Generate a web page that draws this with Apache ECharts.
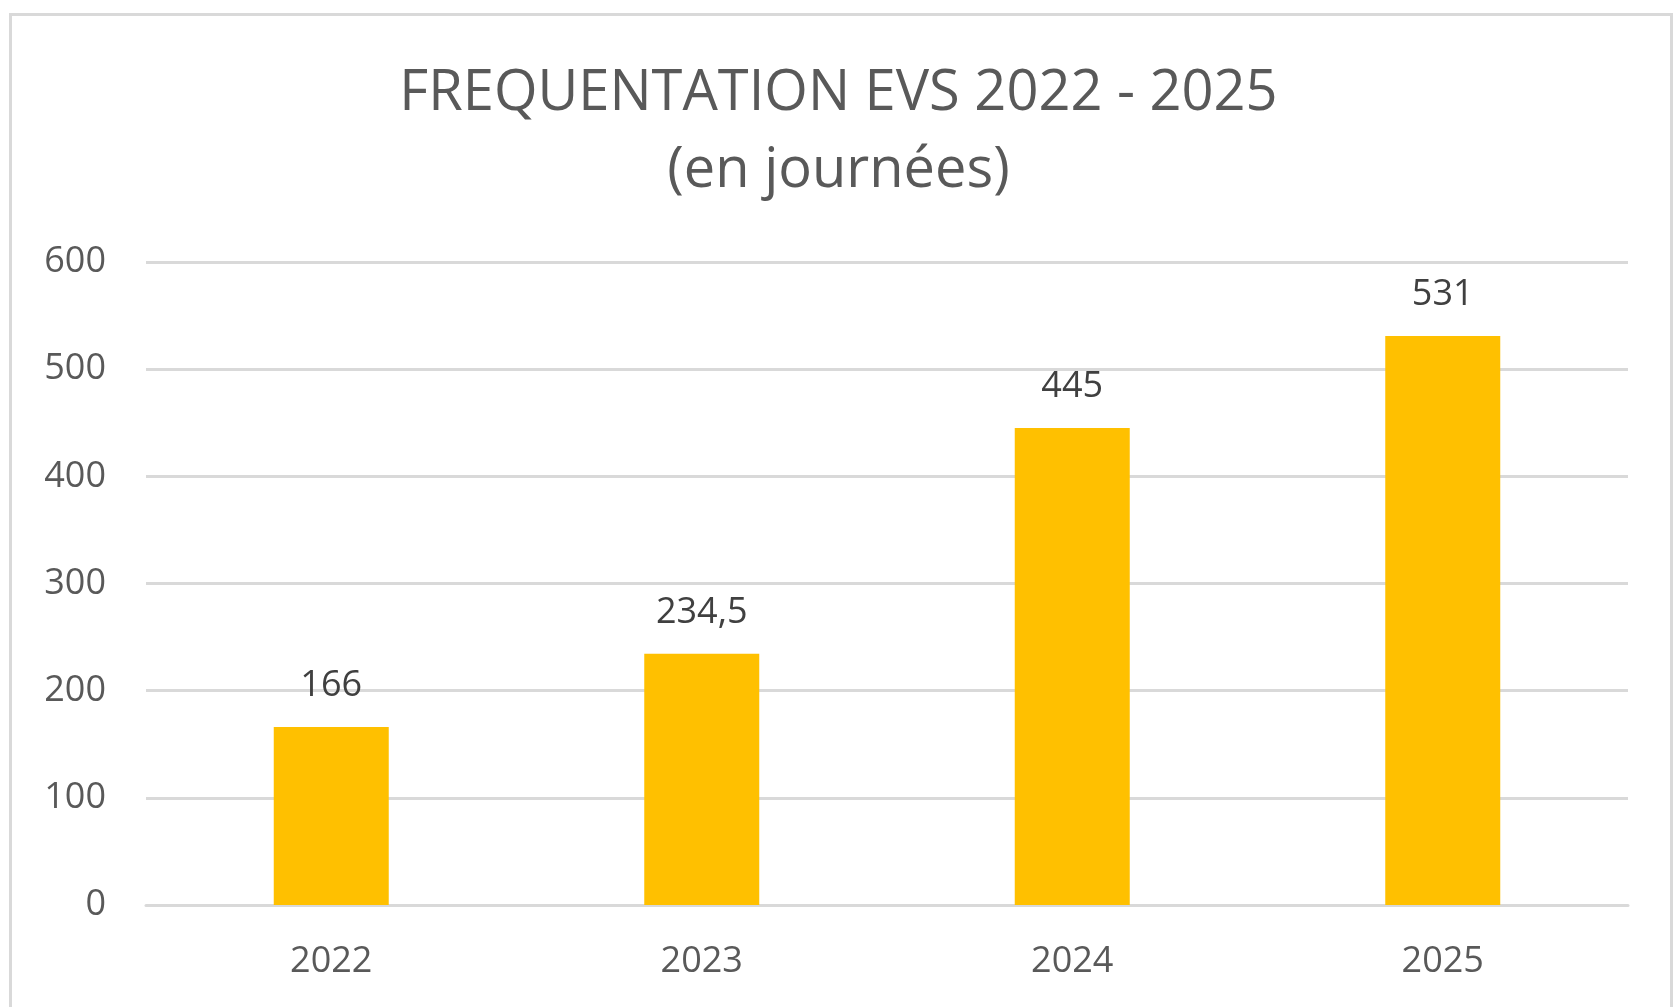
<!DOCTYPE html>
<html>
<head>
<meta charset="utf-8">
<script src="https://cdn.jsdelivr.net/npm/echarts@6/dist/echarts.min.js"></script>
<style>
	html, body { margin: 0; padding: 0; background: #fff; }
	#main { width: 1677px; height: 1007px; }
	/* cadre gris autour du graphique */
	#cadre {
		position: absolute; left: 9px; top: 13px; width: 1658px; height: 1010px;
		border: 3px solid #d9d9d9; pointer-events: none;
	}
</style>
</head>
<body>
<div id="main"></div>
<div id="cadre"></div>
<script>
// données
const annees = ['2022', '2023', '2024', '2025'];
const journees = [166, 234.5, 445, 531];
const titre = 'FREQUENTATION EVS 2022 - 2025\n(en journées)';

const chart = echarts.init(document.getElementById('main'));
const police = '"Open Sans", sans-serif';

chart.setOption({
	animation: false,
	title: {
		text: titre,
		left: 'center',
		top: 51,
		textStyle: {
			fontFamily: police,
			fontSize: 56,
			fontWeight: 'normal',
			color: '#595959',
			lineHeight: 77
		}
	},
	grid: {
		left: 146,
		right: 49,
		top: 262,
		bottom: 102,
		containLabel: false
	},
	xAxis: {
		type: 'category',
		data: annees,
		axisTick: { show: false },
		axisLine: { lineStyle: { color: '#d9d9d9', width: 3 } },
		axisLabel: {
			fontFamily: police,
			fontSize: 36,
			color: '#595959',
			margin: 39
		}
	},
	yAxis: {
		type: 'value',
		min: 0,
		max: 600,
		interval: 100,
		axisLine: { show: false },
		axisTick: { show: false },
		splitLine: { lineStyle: { color: '#d9d9d9', width: 3 } },
		axisLabel: {
			fontFamily: police,
			fontSize: 36,
			color: '#595959',
			margin: 40
		}
	},
	series: [{
		type: 'bar',
		data: journees,
		barWidth: 115,
		itemStyle: { color: '#ffc000' },
		label: {
			show: true,
			position: 'top',
			distance: 23,
			fontFamily: police,
			fontSize: 36,
			color: '#404040',
			formatter: p => String(p.value).replace('.', ',')
		}
	}]
});
</script>
</body>
</html>
